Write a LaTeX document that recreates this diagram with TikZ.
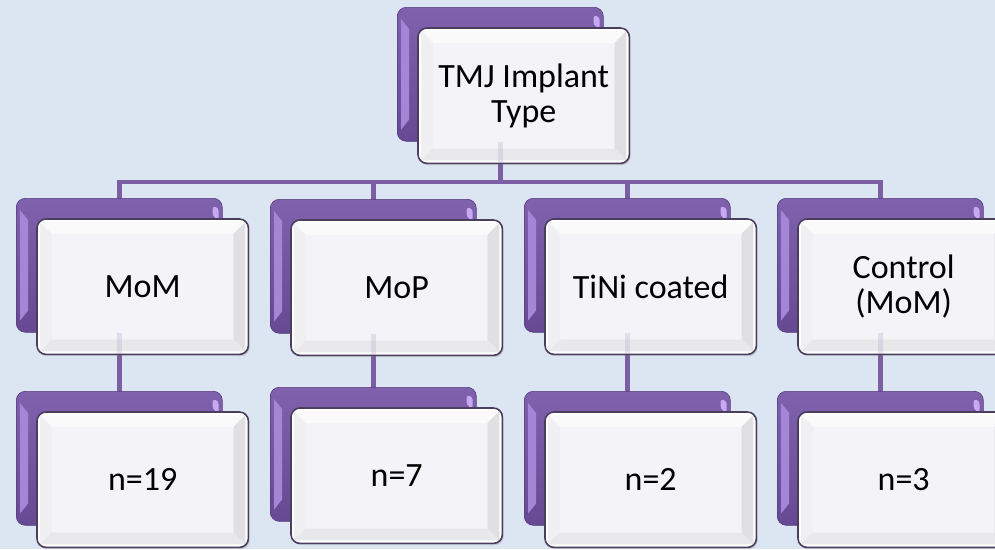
\documentclass[tikz,border=0pt]{standalone}
\usepackage{fontspec}
\setmainfont{Carlito}
\usetikzlibrary{calc,shadows,backgrounds}
\definecolor{bg}{HTML}{DCE6F2}
\definecolor{purp}{HTML}{8061AE}
\definecolor{purpdark}{HTML}{664893}
\definecolor{purplight}{HTML}{A586D6}
\definecolor{purphi}{HTML}{C7A8F2}
\definecolor{conncol}{HTML}{7C5EA2}
\definecolor{frameline}{HTML}{4B3D5E}
\definecolor{bevtop}{HTML}{FAFAFB}
\definecolor{bevleft}{HTML}{F0F0F3}
\definecolor{bevright}{HTML}{E0E0E3}
\definecolor{bevbot}{HTML}{E8E8EB}
\definecolor{face}{HTML}{F4F3F8}
\tikzset{
  backbox/.style={rectangle, rounded corners=9pt, minimum width=206pt, minimum height=134pt,
    anchor=north west, inner sep=0pt, top color=purp, bottom color=purpdark,
    draw=purpdark!85!black, line width=0.6pt},
  frontbox/.style={rectangle, rounded corners=9pt, minimum width=211pt, minimum height=135pt,
    anchor=north west, inner sep=0pt, fill=white,
    drop shadow={opacity=0.3, shadow xshift=1.5pt, shadow yshift=-2pt}},
  frontframe/.style={draw=frameline, line width=1.6pt, rounded corners=9pt},
  boxtext/.style={align=center, font=\fontsize{34}{35}\selectfont, text=black, inner sep=0pt},
  conn/.style={draw=conncol, line width=4.5pt},
  faint/.style={draw=conncol, line width=4.5pt, opacity=0.14},
}
\newcommand\mybox[4]{%
  \node[backbox] (#1b) at (#2,-#3) {};
  \fill[purplight] ($(#1b.north west)+(4,-12)$) -- ($(#1b.north west)+(12,-22)$)
     -- ($(#1b.south west)+(12,22)$) -- ($(#1b.south west)+(4,12)$) -- cycle;
  \fill[purphi, rounded corners=3pt] ($(#1b.north east)+(-10,-8)$) -- ($(#1b.north east)+(-4,-10)$)
     -- ($(#1b.north east)+(-4,-22)$) -- ($(#1b.north east)+(-10,-18)$) -- cycle;
  \node[frontbox] (#1f) at (#2+21,-#3-21) {};
  \fill[bevtop] ($(#1f.north west)+(3,-3)$) -- ($(#1f.north east)+(-3,-3)$)
     -- ($(#1f.north east)+(-15,-15)$) -- ($(#1f.north west)+(15,-15)$) -- cycle;
  \fill[bevleft] ($(#1f.north west)+(3,-3)$) -- ($(#1f.north west)+(15,-15)$)
     -- ($(#1f.south west)+(15,15)$) -- ($(#1f.south west)+(3,3)$) -- cycle;
  \fill[bevright] ($(#1f.north east)+(-3,-3)$) -- ($(#1f.north east)+(-15,-15)$)
     -- ($(#1f.south east)+(-15,15)$) -- ($(#1f.south east)+(-3,3)$) -- cycle;
  \fill[bevbot] ($(#1f.south west)+(3,3)$) -- ($(#1f.south west)+(15,15)$)
     -- ($(#1f.south east)+(-15,15)$) -- ($(#1f.south east)+(-3,3)$) -- cycle;
  \fill[face] ($(#1f.north west)+(15,-15)$) rectangle ($(#1f.south east)+(-15,15)$);
  \draw[frontframe] (#1f.north west) rectangle (#1f.south east);
  \node[boxtext] (#1t) at (#1f.center) {#4};
}
\begin{document}
\begin{tikzpicture}[x=1pt,y=1pt]
\useasboundingbox (0,0) rectangle (995,-549);
\mybox{top}{397}{7}{TMJ Implant\\Type}
\mybox{mom}{16}{198}{MoM}
\mybox{mop}{270}{199}{MoP}
\mybox{tini}{524}{198}{TiNi coated}
\mybox{ctl}{777}{198}{Control\\(MoM)}
\mybox{momn}{16}{391}{n=19}
\mybox{mopn}{270}{387}{n=7}
\mybox{tinin}{524}{391}{n=2}
\mybox{ctln}{777}{391}{n=3}
\foreach \n in {top,mom,mop,tini,ctl}{
  \draw[faint] (\n b.south) -- (\n b.south |- \n f.south);
}
\begin{pgfonlayer}{background}
  \fill[bg] (0,0) rectangle (995,-549);
  \coordinate (bus) at (500,-182);
  \draw[conn] (topb.center) -- (topb.center |- bus);
  \draw[conn] (momb.center) |- (bus) -| (ctlb.center);
  \draw[conn] (mopb.center) |- (bus);
  \draw[conn] (tinib.center) |- (bus);
  \draw[conn] (momb.center) -- (momnb.center);
  \draw[conn] (mopb.center) -- (mopnb.center);
  \draw[conn] (tinib.center) -- (tininb.center);
  \draw[conn] (ctlb.center) -- (ctlnb.center);
\end{pgfonlayer}
\end{tikzpicture}
\end{document}
